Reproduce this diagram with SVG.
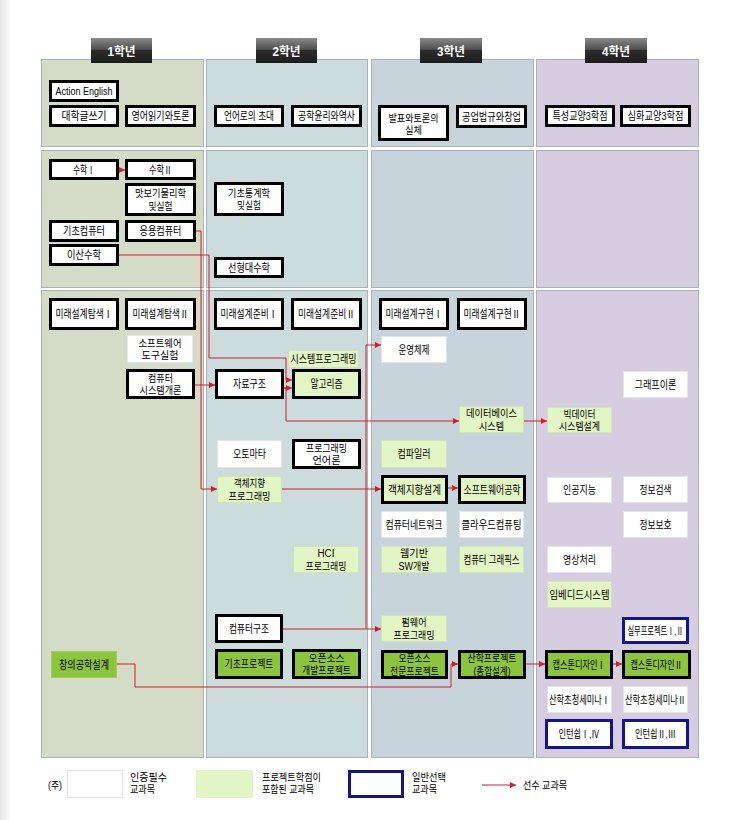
<svg xmlns="http://www.w3.org/2000/svg" width="745" height="820" viewBox="0 0 745 820">
<defs>
<linearGradient id="tabg" x1="0" y1="0" x2="0" y2="1">
<stop offset="0" stop-color="#8a8a8a"/>
<stop offset="0.45" stop-color="#505050"/>
<stop offset="0.5" stop-color="#2c2c2c"/>
<stop offset="1" stop-color="#1c1c1c"/>
</linearGradient>
<linearGradient id="edge" x1="0" y1="0" x2="1" y2="0">
<stop offset="0" stop-color="#e6e6e6"/>
<stop offset="1" stop-color="#ffffff"/>
</linearGradient>
<marker id="ah" markerUnits="userSpaceOnUse" markerWidth="7" markerHeight="7" refX="6" refY="3" orient="auto">
<path d="M0,0 L6,3 L0,6 z" fill="#d41c2c"/>
</marker>
<style>
text{font-family:"Liberation Sans","Noto Sans CJK KR",sans-serif;font-size:11px;fill:#000;text-anchor:middle;}
text.t2{font-size:10px;}
.tab text{fill:#fff;font-weight:bold;font-size:12px;}
.b{fill:#fff;stroke:#000;stroke-width:3;}
.w{fill:#fff;stroke:#e2e6e6;stroke-width:1;}
.lg{fill:#e2f5c4;stroke:#d2e4b6;stroke-width:1;}
.lgb{fill:#e2f5c4;stroke:#000;stroke-width:3;}
.dg{fill:#8cc43c;stroke:#000;stroke-width:3;}
.dgn{fill:#8cc43c;stroke:#9fcf60;stroke-width:1;}
.bl{fill:#fff;stroke:#14148e;stroke-width:3;}
.pn{stroke:#a9b2b4;stroke-width:1;}
.c1{fill:#d4dcc8;}.c2{fill:#ccdcdc;}.c3{fill:#c8d4dc;}.c4{fill:#d6cee0;}
#connectors path{fill:none;stroke:#d41c2c;stroke-width:1;}
.lgd text{text-anchor:start;font-size:10px;}
</style>
</defs>
<rect x="0" y="0" width="745" height="820" fill="#fff"/>
<rect x="0" y="0" width="12" height="820" fill="url(#edge)"/>

<g id="panels">
<rect class="pn c1" x="41.5" y="59.5" width="162" height="87"/>
<rect class="pn c2" x="206.5" y="59.5" width="161" height="87"/>
<rect class="pn c3" x="371.5" y="59.5" width="162" height="87"/>
<rect class="pn c4" x="536.5" y="59.5" width="162" height="87"/>
<rect class="pn c1" x="41.5" y="150.5" width="162" height="137"/>
<rect class="pn c2" x="206.5" y="150.5" width="161" height="137"/>
<rect class="pn c3" x="371.5" y="150.5" width="162" height="137"/>
<rect class="pn c4" x="536.5" y="150.5" width="162" height="137"/>
<rect class="pn c1" x="41.5" y="290.5" width="162" height="467"/>
<rect class="pn c2" x="206.5" y="290.5" width="161" height="467"/>
<rect class="pn c3" x="371.5" y="290.5" width="162" height="467"/>
<rect class="pn c4" x="536.5" y="290.5" width="162" height="467"/>
</g>

<g class="tab" id="tab1"><rect x="91" y="38" width="61" height="25" fill="url(#tabg)"/><text x="121.5" y="55.5" textLength="28" lengthAdjust="spacingAndGlyphs">1학년</text></g>
<g class="tab" id="tab2"><rect x="256" y="38" width="61" height="25" fill="url(#tabg)"/><text x="286.5" y="55.5" textLength="28" lengthAdjust="spacingAndGlyphs">2학년</text></g>
<g class="tab" id="tab3"><rect x="420" y="38" width="62" height="25" fill="url(#tabg)"/><text x="451" y="55.5" textLength="28" lengthAdjust="spacingAndGlyphs">3학년</text></g>
<g class="tab" id="tab4"><rect x="585" y="38" width="62" height="25" fill="url(#tabg)"/><text x="616" y="55.5" textLength="28" lengthAdjust="spacingAndGlyphs">4학년</text></g>

<g id="connectors">
<path d="M119,170 H125" marker-end="url(#ah)"/>
<path d="M196,231 H201 V489 H217" marker-end="url(#ah)"/>
<path d="M119,255 H209 V358 H286 V380 H292" marker-end="url(#ah)"/>
<path d="M195,385 H215" marker-end="url(#ah)"/>
<path d="M284,388 H292" marker-end="url(#ah)"/>
<path d="M284,388 H286 V421 H459" marker-end="url(#ah)"/>
<path d="M524,421 H547" marker-end="url(#ah)"/>
<path d="M282,489 H381" marker-end="url(#ah)"/>
<path d="M448,488 H458" marker-end="url(#ah)"/>
<path d="M283,629 H381" marker-end="url(#ah)"/>
<path d="M366,629 V345 H381" marker-end="url(#ah)"/>
<path d="M117,664 H135 V687 H451 V664 H458" marker-end="url(#ah)"/>
<path d="M526,664 H545" marker-end="url(#ah)"/>
<path d="M613,664 H622" marker-end="url(#ah)"/>
</g>

<g id="n_action"><rect class="b" x="50.5" y="81.5" width="67" height="19"/><text x="84" y="95" textLength="57" lengthAdjust="spacingAndGlyphs">Action English</text></g>
<g id="n_writing"><rect class="b" x="50.5" y="106.5" width="67" height="19"/><text x="84" y="120" textLength="45" lengthAdjust="spacingAndGlyphs">대학글쓰기</text></g>
<g id="n_reading"><rect class="b" x="126.5" y="106.5" width="68" height="19"/><text x="160.5" y="120" textLength="58" lengthAdjust="spacingAndGlyphs">영어읽기와토론</text></g>
<g id="n_lang"><rect class="b" x="215.5" y="106.5" width="67" height="19"/><text x="249" y="120" textLength="50" lengthAdjust="spacingAndGlyphs">언어로의 초대</text></g>
<g id="n_ethics"><rect class="b" x="292.5" y="106.5" width="68" height="19"/><text x="326.5" y="120" textLength="57" lengthAdjust="spacingAndGlyphs">공학윤리와역사</text></g>
<g id="n_present"><rect class="b" x="379.5" y="106.5" width="68" height="33"/><text class="t2" x="413.5" y="121.5" textLength="50" lengthAdjust="spacingAndGlyphs">발표와토론의</text><text class="t2" x="413.5" y="134" textLength="17" lengthAdjust="spacingAndGlyphs">실체</text></g>
<g id="n_law"><rect class="b" x="457.5" y="106.5" width="68" height="20"/><text x="491.5" y="120.5" textLength="59" lengthAdjust="spacingAndGlyphs">공업법규와창업</text></g>
<g id="n_lib1"><rect class="b" x="546.5" y="106.5" width="67" height="19"/><text x="580" y="120" textLength="55" lengthAdjust="spacingAndGlyphs">특성교양3학점</text></g>
<g id="n_lib2"><rect class="b" x="621.5" y="106.5" width="68" height="19"/><text x="655.5" y="120" textLength="56" lengthAdjust="spacingAndGlyphs">심화교양3학점</text></g>

<g id="n_math1"><rect class="b" x="50.5" y="160.5" width="67" height="18"/><text x="84" y="173.5" textLength="22" lengthAdjust="spacingAndGlyphs">수학Ⅰ</text></g>
<g id="n_math2"><rect class="b" x="126.5" y="160.5" width="68" height="18"/><text x="160.5" y="173.5" textLength="23" lengthAdjust="spacingAndGlyphs">수학Ⅱ</text></g>
<g id="n_phys"><rect class="b" x="126.5" y="184.5" width="68" height="30"/><text class="t2" x="160.5" y="197" textLength="51" lengthAdjust="spacingAndGlyphs">맛보기물리학</text><text class="t2" x="160.5" y="209.5" textLength="24" lengthAdjust="spacingAndGlyphs">및실험</text></g>
<g id="n_stat"><rect class="b" x="215.5" y="183.5" width="67" height="31"/><text class="t2" x="249" y="196.5" textLength="42" lengthAdjust="spacingAndGlyphs">기초통계학</text><text class="t2" x="249" y="209" textLength="24" lengthAdjust="spacingAndGlyphs">및실험</text></g>
<g id="n_comp"><rect class="b" x="50.5" y="221.5" width="67" height="19"/><text x="84" y="235" textLength="42" lengthAdjust="spacingAndGlyphs">기초컴퓨터</text></g>
<g id="n_acomp"><rect class="b" x="126.5" y="221.5" width="68" height="19"/><text x="160.5" y="235" textLength="42" lengthAdjust="spacingAndGlyphs">응용컴퓨터</text></g>
<g id="n_disc"><rect class="b" x="50.5" y="245.5" width="67" height="19"/><text x="84" y="259" textLength="34" lengthAdjust="spacingAndGlyphs">이산수학</text></g>
<g id="n_linalg"><rect class="b" x="215.5" y="258.5" width="67" height="18"/><text x="249" y="271.5" textLength="42" lengthAdjust="spacingAndGlyphs">선형대수학</text></g>

<g id="n_fe1"><rect class="b" x="50.5" y="299.5" width="67" height="29"/><text x="84" y="318" textLength="57" lengthAdjust="spacingAndGlyphs">미래설계탐색Ⅰ</text></g>
<g id="n_fe2"><rect class="b" x="126.5" y="299.5" width="68" height="29"/><text x="160.5" y="318" textLength="56" lengthAdjust="spacingAndGlyphs">미래설계탐색Ⅱ</text></g>
<g id="n_fp1"><rect class="b" x="215.5" y="299.5" width="67" height="29"/><text x="249" y="318" textLength="57" lengthAdjust="spacingAndGlyphs">미래설계준비Ⅰ</text></g>
<g id="n_fp2"><rect class="b" x="292.5" y="299.5" width="68" height="29"/><text x="326.5" y="318" textLength="57" lengthAdjust="spacingAndGlyphs">미래설계준비Ⅱ</text></g>
<g id="n_fi1"><rect class="b" x="380.5" y="299.5" width="67" height="29"/><text x="414" y="318" textLength="57" lengthAdjust="spacingAndGlyphs">미래설계구현Ⅰ</text></g>
<g id="n_fi2"><rect class="b" x="458.5" y="299.5" width="67" height="29"/><text x="492" y="318" textLength="57" lengthAdjust="spacingAndGlyphs">미래설계구현Ⅱ</text></g>
<g id="n_swtool"><rect class="w" x="127.5" y="335.5" width="65" height="27"/><text class="t2" x="160" y="346.5" textLength="43" lengthAdjust="spacingAndGlyphs">소프트웨어</text><text class="t2" x="160" y="359" textLength="37" lengthAdjust="spacingAndGlyphs">도구실험</text></g>
<g id="n_sysintro"><rect class="b" x="127.5" y="370.5" width="66" height="27"/><text class="t2" x="160.5" y="381.5" textLength="25" lengthAdjust="spacingAndGlyphs">컴퓨터</text><text class="t2" x="160.5" y="394" textLength="42" lengthAdjust="spacingAndGlyphs">시스템개론</text></g>
<g id="n_ds"><rect class="b" x="216.5" y="370.5" width="66" height="27"/><text x="249.5" y="388" textLength="33" lengthAdjust="spacingAndGlyphs">자료구조</text></g>
<g id="n_sysprog"><rect class="lg" x="288.5" y="350.5" width="70" height="17"/><text x="323.5" y="363" textLength="66" lengthAdjust="spacingAndGlyphs">시스템프로그래밍</text></g>
<g id="n_algo"><rect class="lgb" x="293.5" y="370.5" width="66" height="27"/><text x="326.5" y="388" textLength="32" lengthAdjust="spacingAndGlyphs">알고리즘</text></g>
<g id="n_os"><rect class="w" x="381.5" y="336.5" width="65" height="26"/><text x="414" y="353.5" textLength="31" lengthAdjust="spacingAndGlyphs">운영체제</text></g>
<g id="n_graph"><rect class="w" x="623.5" y="371.5" width="64" height="26"/><text x="655.5" y="388.5" textLength="42" lengthAdjust="spacingAndGlyphs">그래프이론</text></g>
<g id="n_db"><rect class="lg" x="459.5" y="406.5" width="64" height="26"/><text class="t2" x="491.5" y="417" textLength="51" lengthAdjust="spacingAndGlyphs">데이터베이스</text><text class="t2" x="491.5" y="429.5" textLength="25" lengthAdjust="spacingAndGlyphs">시스템</text></g>
<g id="n_bigdata"><rect class="lg" x="547.5" y="407.5" width="64" height="25"/><text class="t2" x="579.5" y="417.5" textLength="32" lengthAdjust="spacingAndGlyphs">빅데이터</text><text class="t2" x="579.5" y="430" textLength="41" lengthAdjust="spacingAndGlyphs">시스템설계</text></g>
<g id="n_automata"><rect class="w" x="217.5" y="440.5" width="64" height="27"/><text x="249.5" y="458" textLength="33" lengthAdjust="spacingAndGlyphs">오토마타</text></g>
<g id="n_pl"><rect class="b" x="293.5" y="440.5" width="66" height="27"/><text class="t2" x="326.5" y="451.5" textLength="41" lengthAdjust="spacingAndGlyphs">프로그래밍</text><text class="t2" x="326.5" y="464" textLength="28" lengthAdjust="spacingAndGlyphs">언어론</text></g>
<g id="n_compiler"><rect class="lg" x="381.5" y="440.5" width="65" height="27"/><text x="414" y="458" textLength="33" lengthAdjust="spacingAndGlyphs">컴파일러</text></g>
<g id="n_oop"><rect class="lg" x="217.5" y="476.5" width="64" height="26"/><text class="t2" x="249.5" y="487" textLength="31" lengthAdjust="spacingAndGlyphs">객체지향</text><text class="t2" x="249.5" y="499.5" textLength="42" lengthAdjust="spacingAndGlyphs">프로그래밍</text></g>
<g id="n_ood"><rect class="lgb" x="382.5" y="476.5" width="64" height="26"/><text x="414.5" y="493.5" textLength="53" lengthAdjust="spacingAndGlyphs">객체지향설계</text></g>
<g id="n_se"><rect class="lgb" x="459.5" y="476.5" width="65" height="26"/><text x="492" y="493.5" textLength="57" lengthAdjust="spacingAndGlyphs">소프트웨어공학</text></g>
<g id="n_ai"><rect class="w" x="547.5" y="477.5" width="64" height="25"/><text x="579.5" y="494" textLength="33" lengthAdjust="spacingAndGlyphs">인공지능</text></g>
<g id="n_ir"><rect class="w" x="623.5" y="476.5" width="64" height="26"/><text x="655.5" y="493.5" textLength="32" lengthAdjust="spacingAndGlyphs">정보검색</text></g>
<g id="n_net"><rect class="w" x="381.5" y="511.5" width="65" height="26"/><text x="414" y="528.5" textLength="57" lengthAdjust="spacingAndGlyphs">컴퓨터네트워크</text></g>
<g id="n_cloud"><rect class="w" x="459.5" y="511.5" width="64" height="26"/><text x="491.5" y="528.5" textLength="60" lengthAdjust="spacingAndGlyphs">클라우드컴퓨팅</text></g>
<g id="n_sec"><rect class="w" x="623.5" y="511.5" width="64" height="26"/><text x="655.5" y="528.5" textLength="32" lengthAdjust="spacingAndGlyphs">정보보호</text></g>
<g id="n_hci"><rect class="lg" x="293.5" y="546.5" width="65" height="26"/><text class="t2" x="326" y="557" textLength="17" lengthAdjust="spacingAndGlyphs">HCI</text><text class="t2" x="326" y="569.5" textLength="41" lengthAdjust="spacingAndGlyphs">프로그래밍</text></g>
<g id="n_web"><rect class="lg" x="381.5" y="546.5" width="65" height="26"/><text class="t2" x="414" y="557" textLength="28" lengthAdjust="spacingAndGlyphs">웹기반</text><text class="t2" x="414" y="569.5" textLength="31" lengthAdjust="spacingAndGlyphs">SW개발</text></g>
<g id="n_cg"><rect class="lg" x="459.5" y="546.5" width="64" height="26"/><text x="491.5" y="563.5" textLength="56" lengthAdjust="spacingAndGlyphs">컴퓨터 그래픽스</text></g>
<g id="n_img"><rect class="w" x="547.5" y="546.5" width="64" height="26"/><text x="579.5" y="563.5" textLength="33" lengthAdjust="spacingAndGlyphs">영상처리</text></g>
<g id="n_embed"><rect class="lg" x="547.5" y="581.5" width="64" height="26"/><text x="579.5" y="598.5" textLength="60" lengthAdjust="spacingAndGlyphs">임베디드시스템</text></g>
<g id="n_arch"><rect class="b" x="216.5" y="615.5" width="65" height="26"/><text x="249" y="632.5" textLength="40" lengthAdjust="spacingAndGlyphs">컴퓨터구조</text></g>
<g id="n_fw"><rect class="lg" x="381.5" y="615.5" width="65" height="26"/><text class="t2" x="414" y="626" textLength="25" lengthAdjust="spacingAndGlyphs">펌웨어</text><text class="t2" x="414" y="638.5" textLength="41" lengthAdjust="spacingAndGlyphs">프로그래밍</text></g>
<g id="n_prac"><rect class="bl" x="623.5" y="618.5" width="64" height="24"/><text x="655.5" y="634.5" textLength="56" lengthAdjust="spacingAndGlyphs">실무프로젝트Ⅰ,Ⅱ</text></g>
<g id="n_creative"><rect class="dgn" x="51.5" y="651.5" width="65" height="26"/><text x="84" y="668.5" textLength="50" lengthAdjust="spacingAndGlyphs">창의공학설계</text></g>
<g id="n_basicproj"><rect class="dg" x="216.5" y="650.5" width="65" height="27"/><text x="249" y="668" textLength="49" lengthAdjust="spacingAndGlyphs">기초프로젝트</text></g>
<g id="n_osdev"><rect class="dg" x="293.5" y="650.5" width="66" height="27"/><text class="t2" x="326.5" y="661.5" textLength="36" lengthAdjust="spacingAndGlyphs">오픈소스</text><text class="t2" x="326.5" y="674" textLength="49" lengthAdjust="spacingAndGlyphs">개발프로젝트</text></g>
<g id="n_ospro"><rect class="dg" x="382.5" y="651.5" width="64" height="26"/><text class="t2" x="414.5" y="662" textLength="32" lengthAdjust="spacingAndGlyphs">오픈소스</text><text class="t2" x="414.5" y="674.5" textLength="49" lengthAdjust="spacingAndGlyphs">전문프로젝트</text></g>
<g id="n_indproj"><rect class="dg" x="459.5" y="651.5" width="65" height="26"/><text class="t2" x="492" y="662" textLength="49" lengthAdjust="spacingAndGlyphs">산학프로젝트</text><text class="t2" x="492" y="674.5" textLength="37" lengthAdjust="spacingAndGlyphs">(종합설계)</text></g>
<g id="n_cap1"><rect class="dg" x="546.5" y="651.5" width="65" height="26"/><text x="579" y="668.5" textLength="53" lengthAdjust="spacingAndGlyphs">캡스톤디자인Ⅰ</text></g>
<g id="n_cap2"><rect class="dg" x="623.5" y="651.5" width="66" height="26"/><text x="656.5" y="668.5" textLength="52" lengthAdjust="spacingAndGlyphs">캡스톤디자인Ⅱ</text></g>
<g id="n_sem1"><rect class="w" x="547.5" y="686.5" width="64" height="26"/><text x="579.5" y="703.5" textLength="61" lengthAdjust="spacingAndGlyphs">산학초청세미나Ⅰ</text></g>
<g id="n_sem2"><rect class="w" x="623.5" y="686.5" width="64" height="26"/><text x="655.5" y="703.5" textLength="61" lengthAdjust="spacingAndGlyphs">산학초청세미나Ⅱ</text></g>
<g id="n_intern1"><rect class="bl" x="546.5" y="720.5" width="65" height="27"/><text x="579" y="738" textLength="41" lengthAdjust="spacingAndGlyphs">인턴쉽Ⅰ,Ⅳ</text></g>
<g id="n_intern2"><rect class="bl" x="623.5" y="720.5" width="64" height="27"/><text x="655.5" y="738" textLength="41" lengthAdjust="spacingAndGlyphs">인턴쉽Ⅱ,Ⅲ</text></g>

<g id="legend" class="lgd">
<text x="48" y="789" textLength="14" lengthAdjust="spacingAndGlyphs">(주)</text>
<rect x="67.5" y="770.5" width="55" height="27" fill="#fff" stroke="#e2e2e2"/>
<text x="130" y="780.5" textLength="37" lengthAdjust="spacingAndGlyphs">인증필수</text>
<text x="130" y="793" textLength="25" lengthAdjust="spacingAndGlyphs">교과목</text>
<rect x="196" y="770" width="57" height="28" fill="#e2f5c4"/>
<text x="262" y="780.5" textLength="59" lengthAdjust="spacingAndGlyphs">프로젝트학점이</text>
<text x="262" y="793" textLength="52" lengthAdjust="spacingAndGlyphs">포함된 교과목</text>
<rect x="349.5" y="771.5" width="53" height="25" fill="#fff" stroke="#14148e" stroke-width="3"/>
<text x="412" y="780.5" textLength="34" lengthAdjust="spacingAndGlyphs">일반선택</text>
<text x="412" y="793" textLength="25" lengthAdjust="spacingAndGlyphs">교과목</text>
<path d="M482,785 H516" fill="none" stroke="#d41c2c" stroke-width="1" marker-end="url(#ah)"/>
<text x="523" y="789" textLength="44" lengthAdjust="spacingAndGlyphs">선수 교과목</text>
</g>
</svg>
